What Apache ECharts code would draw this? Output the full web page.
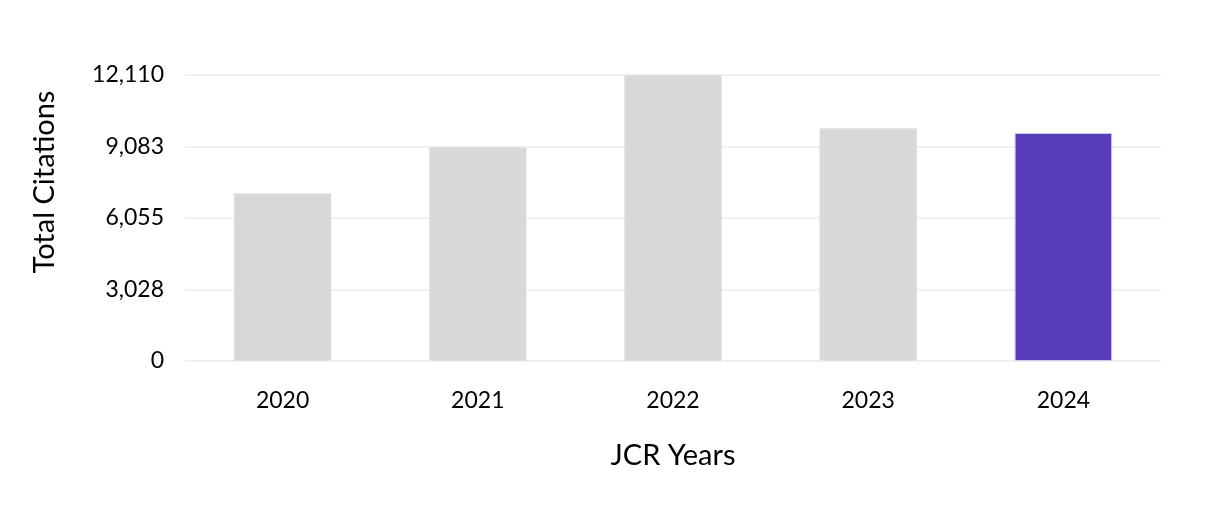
<!DOCTYPE html>
<html>
<head>
<meta charset="utf-8">
<script src="https://cdn.jsdelivr.net/npm/echarts@6/dist/echarts.min.js"></script>
<style>
html,body{margin:0;padding:0;background:#fff;}
#chart{width:1212px;height:508px;}
</style>
</head>
<body>
<div id="chart"></div>
<script>
const years = ['2020', '2021', '2022', '2023', '2024'];
const citations = [7100, 9060, 12110, 9855, 9655];
const barColors = ['#d8d8d8', '#d8d8d8', '#d8d8d8', '#d8d8d8', '#573db8'];
const borderColors = ['#e2e2e2', '#e2e2e2', '#e2e2e2', '#e2e2e2', '#cfc7f0'];
const yMax = 12110;
const yInterval = yMax / 4;

const FONT = 'Lato';
const chart = echarts.init(document.getElementById('chart'));
chart.setOption({
  animation: false,
  grid: { left: 185, right: 51, top: 75, bottom: 147 },
  xAxis: {
    type: 'category',
    data: years,
    name: 'JCR Years',
    nameLocation: 'middle',
    nameGap: 80,
    nameTextStyle: { fontFamily: FONT, fontSize: 29, color: '#000' },
    axisLine: { show: false },
    axisTick: { show: false },
    axisLabel: { fontFamily: FONT, fontSize: 23, color: '#000', margin: 28 }
  },
  yAxis: {
    type: 'value',
    min: 0,
    max: yMax,
    interval: yInterval,
    name: 'Total Citations',
    nameLocation: 'middle',
    nameGap: 126,
    nameTextStyle: { fontFamily: FONT, fontSize: 29, color: '#000', padding: [0, 0, 0, 72] },
    axisLine: { show: false },
    axisTick: { show: false },
    axisLabel: {
      fontFamily: FONT, fontSize: 23, color: '#000', margin: 21,
      formatter: v => Math.round(v).toLocaleString('en-US')
    },
    splitLine: { lineStyle: { color: '#f0f0f0', width: 2 } }
  },
  series: [{
    type: 'bar',
    barWidth: '50%',
    data: citations.map((v, i) => ({
      value: v,
      itemStyle: { color: barColors[i], borderColor: borderColors[i], borderWidth: 1 }
    }))
  }]
});
</script>
</body>
</html>
